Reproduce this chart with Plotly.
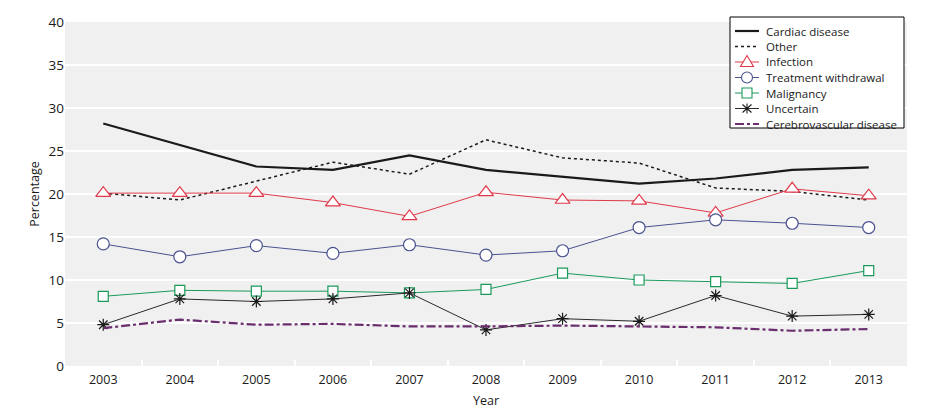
import plotly.graph_objects as go

years = ["2003", "2004", "2005", "2006", "2007", "2008", "2009", "2010", "2011", "2012", "2013"]
cardiac = [28.2, 25.7, 23.2, 22.8, 24.5, 22.8, 22.0, 21.2, 21.8, 22.8, 23.1]
other = [20.1, 19.3, 21.5, 23.7, 22.3, 26.3, 24.2, 23.6, 20.7, 20.3, 19.3]
infection = [20.1, 20.1, 20.1, 19.0, 17.4, 20.2, 19.3, 19.2, 17.8, 20.6, 19.8]
withdrawal = [14.2, 12.7, 14.0, 13.1, 14.1, 12.9, 13.4, 16.1, 17.0, 16.6, 16.1]
malignancy = [8.1, 8.8, 8.7, 8.7, 8.5, 8.9, 10.8, 10.0, 9.8, 9.6, 11.1]
uncertain = [4.8, 7.8, 7.5, 7.8, 8.5, 4.2, 5.5, 5.2, 8.2, 5.8, 6.0]
cerebro = [4.4, 5.4, 4.8, 4.9, 4.6, 4.6, 4.7, 4.6, 4.5, 4.1, 4.3]

RED = "#e0394a"
BLUE = "#4a5290"
GREEN = "#1a9a5a"
PURPLE = "#6a2d6e"
BLACK = "#1a1a1a"

series = [
    ("Cardiac disease", cardiac, dict(color=BLACK, width=2.2), None),
    ("Other", other, dict(color=BLACK, width=1.5, dash="dot"), None),
    ("Infection", infection, dict(color=RED, width=1),
     dict(symbol="triangle-up", size=13, color="white", line=dict(color=RED, width=1.2))),
    ("Treatment withdrawal", withdrawal, dict(color=BLUE, width=1),
     dict(symbol="circle", size=12, color="white", line=dict(color=BLUE, width=1.2))),
    ("Malignancy", malignancy, dict(color=GREEN, width=1),
     dict(symbol="square", size=10, color="white", line=dict(color=GREEN, width=1.2))),
    ("Uncertain", uncertain, dict(color="#2a2a2a", width=1),
     dict(symbol="asterisk-open", size=10, color=BLACK, line=dict(color=BLACK, width=1.2))),
    ("Cerebrovascular disease", cerebro, dict(color=PURPLE, width=2.2, dash="dashdot"), None),
]

fig = go.Figure()
for name, vals, line, marker in series:
    fig.add_trace(go.Scatter(x=years, y=vals, name=name,
                             mode="lines+markers" if marker else "lines",
                             line=line, marker=marker, showlegend=False))

# ---- custom compact legend (pixel-sized shapes anchored in paper coords) ----
PW, PH = 842.0, 344.0           # plot area size in px
def px_x(dx):                   # pixels from plot left -> paper
    return dx / PW
def px_y(dy):                   # pixels from plot top -> paper
    return 1 - dy / PH

shapes = []
annotations = []
box_l, box_r, box_t, box_b = 665, 839, -5, 106   # px relative to plot top-left
shapes.append(dict(type="rect", xref="paper", yref="paper",
                   x0=px_x(box_l), x1=px_x(box_r), y0=px_y(box_b), y1=px_y(box_t),
                   fillcolor="white", line=dict(color="black", width=1), layer="above"))
row0, step = 9, 15.5
ls_l, ls_r, mk_x, txt_x = 670, 694, 682, 699
for i, (name, vals, line, marker) in enumerate(series):
    yy = px_y(row0 + i * step)
    shapes.append(dict(type="line", xref="paper", yref="paper",
                       x0=px_x(ls_l), x1=px_x(ls_r), y0=yy, y1=yy,
                       line=dict(color=line["color"], width=line["width"],
                                 dash=line.get("dash", "solid")), layer="above"))
    if marker:
        sym = marker["symbol"]
        c = marker["line"]["color"]
        common = dict(xref="paper", yref="paper", xsizemode="pixel", ysizemode="pixel",
                      xanchor=px_x(mk_x), yanchor=yy, layer="above",
                      line=dict(color=c, width=1.1))
        if sym == "triangle-up":
            shapes.append(dict(type="path", path="M -6.5 -4.5 L 6.5 -4.5 L 0 6.5 Z",
                               fillcolor="white", **common))
        elif sym == "circle":
            shapes.append(dict(type="circle", x0=-5.5, x1=5.5, y0=-5.5, y1=5.5,
                               fillcolor="white", **common))
        elif sym == "square":
            shapes.append(dict(type="rect", x0=-5, x1=5, y0=-5, y1=5,
                               fillcolor="white", **common))
        else:
            shapes.append(dict(type="path",
                               path="M 0 -5 L 0 5 M -4.5 -4 L 4.5 4 M -4.5 4 L 4.5 -4",
                               **common))
    annotations.append(dict(xref="paper", yref="paper", x=px_x(txt_x), y=yy,
                            text=name, showarrow=False, xanchor="left", yanchor="middle",
                            font=dict(size=11.5, color=BLACK)))

fig.update_layout(
    width=924, height=409,
    margin=dict(l=57, r=25, t=14, b=51),
    paper_bgcolor="white",
    plot_bgcolor="#f0f0f0",
    font=dict(family="Open Sans", size=12, color=BLACK),
    showlegend=False,
    shapes=shapes,
    annotations=annotations,
    xaxis=dict(type="category", range=[-0.5, 10.5], showgrid=False, zeroline=False,
               automargin=False,
               title=dict(text="Year", font=dict(size=12.5), standoff=9),
               tickfont=dict(size=12.5), ticks="inside", tickson="boundaries",
               tickcolor="white", ticklen=6, tickwidth=1.5, ticklabelstandoff=4),
    yaxis=dict(range=[0, 40], dtick=5, showgrid=True, gridcolor="white", gridwidth=1.5,
               zeroline=False, automargin=False,
               title=dict(text="Percentage", font=dict(size=12.5), standoff=6),
               tickfont=dict(size=13.5), ticks=""),
)

fig.write_html("out.html")
